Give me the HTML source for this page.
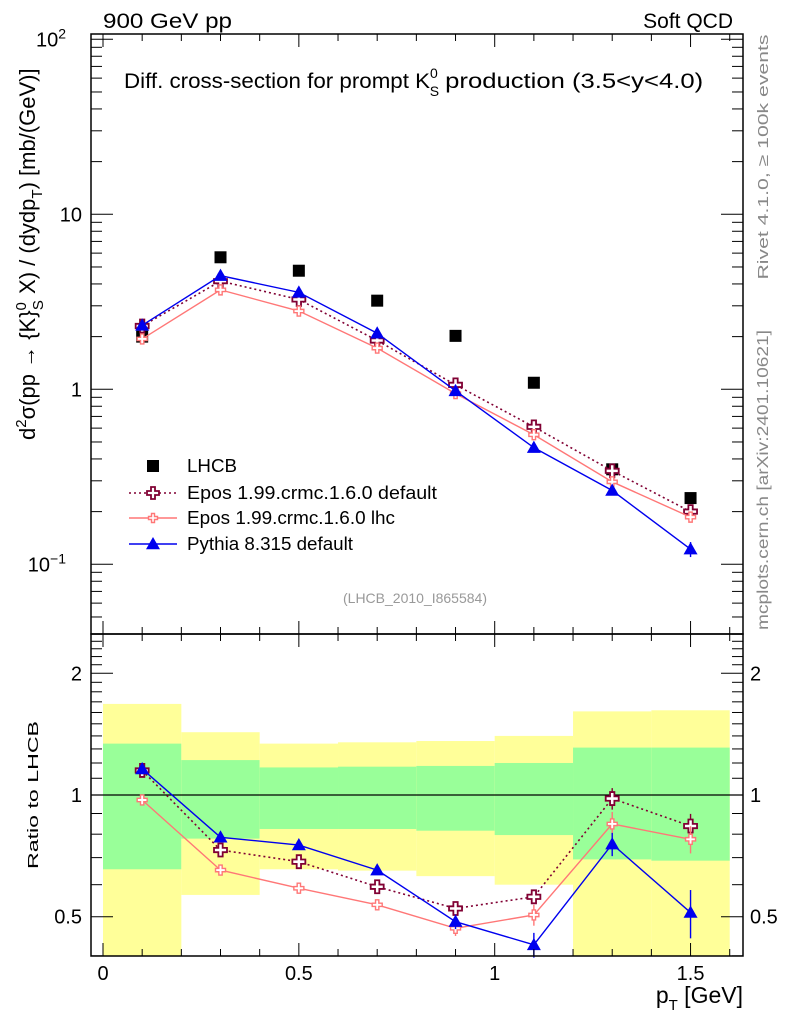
<!DOCTYPE html>
<html><head><meta charset="utf-8"><style>
html,body{margin:0;padding:0;background:#fff;}
svg{display:block;font-family:"Liberation Sans",sans-serif;}
</style></head><body>
<svg id="chart" width="786" height="1024" viewBox="0 0 786 1024" xmlns="http://www.w3.org/2000/svg">
<g id="bands"></g>
<g id="marks"></g>
<g id="axes"></g>
<text x="103" y="28" font-size="21" textLength="129" lengthAdjust="spacingAndGlyphs">900 GeV pp</text>
<text x="733" y="28" font-size="21" text-anchor="end">Soft QCD</text>
<text x="124" y="88" font-size="21"><tspan textLength="306" lengthAdjust="spacingAndGlyphs">Diff. cross-section for prompt K</tspan><tspan font-size="14" dy="-10">0</tspan><tspan font-size="14" dx="-8" dy="18">S</tspan><tspan dy="-8" dx="6" textLength="258" lengthAdjust="spacingAndGlyphs">production (3.5&lt;y&lt;4.0)</tspan></text>
<text x="415" y="603" font-size="14" fill="#999" text-anchor="middle">(LHCB_2010_I865584)</text>
<text transform="translate(768,157) rotate(-90)" font-size="15" fill="#888" text-anchor="middle" textLength="245" lengthAdjust="spacingAndGlyphs">Rivet 4.1.0, ≥ 100k events</text>
<text transform="translate(768,480) rotate(-90)" font-size="15.5" fill="#888" text-anchor="middle" textLength="300" lengthAdjust="spacingAndGlyphs">mcplots.cern.ch [arXiv:2401.10621]</text>
<text transform="translate(35,440) rotate(-90)" font-size="22">d<tspan font-size="15" dy="-9">2</tspan><tspan dy="9">σ(pp → {K}</tspan><tspan font-size="15" dy="-9">0</tspan><tspan font-size="15" dx="-8" dy="17">S</tspan><tspan dy="-8"> X) / (dydp</tspan><tspan font-size="15" dy="7">T</tspan><tspan dy="-7">) [mb/(GeV)]</tspan></text>
<text transform="translate(38,795) rotate(-90)" font-size="15" text-anchor="middle" textLength="148" lengthAdjust="spacingAndGlyphs">Ratio to LHCB</text>
<text x="743" y="1003" font-size="23" text-anchor="end">p<tspan font-size="15" dy="7">T</tspan><tspan dy="-7"> [GeV]</tspan></text>
<g id="legend"></g>
</svg>
<script>
const pt = [0.1,0.3,0.5,0.7,0.9,1.1,1.3,1.5];
const lhcb = [2.0,5.68,4.76,3.21,2.02,1.09,0.349,0.239];
const eposDef = [2.3,4.15,3.26,1.9,1.06,0.61,0.342,0.2];
const eposLhc = [1.94,3.7,2.8,1.72,0.945,0.55,0.296,0.186];
const pythia = [2.32,4.46,3.58,2.09,0.98,0.464,0.264,0.122];
const pythiaErr = [0.05,0.06,0.05,0.04,0.02,0.015,0.012,0.012];
const ratioDef = [1.15,0.731,0.684,0.593,0.524,0.56,0.98,0.838];
const ratioLhc = [0.972,0.652,0.588,0.535,0.468,0.505,0.848,0.777];
const ratioPy = [1.16,0.786,0.752,0.652,0.486,0.426,0.756,0.512];
const ratioPyErr = [0.02,0.01,0.01,0.015,0.02,0.03,0.05,0.07];
const ratioDefErr = [0.01,0.01,0.01,0.01,0.015,0.02,0.06,0.06];
const ratioLhcErr = [0.01,0.01,0.01,0.01,0.02,0.03,0.06,0.06];
const binEdges = [0,0.2,0.4,0.6,0.8,1.0,1.2,1.4,1.6];
const yellowHi = [1.68,1.43,1.34,1.35,1.36,1.40,1.61,1.62];
const greenHi = [1.34,1.22,1.17,1.175,1.18,1.20,1.31,1.31];
const greenLo = [0.655,0.78,0.824,0.824,0.816,0.796,0.693,0.688];
const yellowLo = [0.3,0.566,0.655,0.65,0.63,0.6,0.3,0.3];
const xTicks = [0,0.5,1,1.5];
const xTickLabels = ["0","0.5","1","1.5"];
const ratioTicks = [0.5,1,2];
const ratioTickLabels = ["0.5","1","2"];

const NS="http://www.w3.org/2000/svg";
const L=91,R=743,T=34,M=634,B=956;
const X=v=>103+v*391.7;
const Y=v=>389.3-Math.log10(v)*175;
const RY=v=>795-Math.log2(v)*121.7;
function mk(tag,attrs,parent){const e=document.createElementNS(NS,tag);for(const k in attrs)e.setAttribute(k,attrs[k]);parent.appendChild(e);return e;}
const bands=document.getElementById('bands'),marks=document.getElementById('marks'),axes=document.getElementById('axes'),legend=document.getElementById('legend');
const clipB=v=>Math.min(B,Math.max(M,v));
for(let i=0;i<yellowHi.length;i++){
  const x0=X(binEdges[i]),x1=X(binEdges[i+1]);
  let r=mk('rect',{x:x0,y:clipB(RY(yellowHi[i])),width:x1-x0,height:clipB(RY(yellowLo[i]))-clipB(RY(yellowHi[i])),fill:'#ffff99'},bands);
  
  
  let g=mk('rect',{x:x0,y:RY(greenHi[i]),width:x1-x0,height:RY(greenLo[i])-RY(greenHi[i]),fill:'#99ff99'},bands);
  
  
}
let one=mk('line',{x1:L,x2:R,y1:RY(1),y2:RY(1),stroke:'#000','stroke-width':1.2},bands);



function cross(cx,cy,s,col,parent,w){
  const a=s/3;
  const d=`M${cx-a},${cy-s}h${2*a}v${s-a}h${s-a}v${2*a}h${-(s-a)}v${s-a}h${-2*a}v${-(s-a)}h${-(s-a)}v${-2*a}h${s-a}z`;
  return mk('path',{d:d,fill:'#fff',stroke:col,'stroke-width':w},parent);
}
function tri(cx,cy,s,col,parent){return mk('path',{d:`M${cx},${cy-s}L${cx+s},${cy+s*0.75}L${cx-s},${cy+s*0.75}Z`,fill:col},parent);}
function series(vals,yf,col,dash,marker,name,errs,sz){
  const pts=pt.map((p,i)=>X(p)+','+yf(vals[i])).join(' ');
  const pl=mk('polyline',{points:pts,fill:'none',stroke:col,'stroke-width':dash?1.6:1.4},marks);
  if(dash)pl.setAttribute('stroke-dasharray','2,3');
  
  
  pt.forEach((p,i)=>{
    if(errs){const e=mk('line',{x1:X(p),x2:X(p),y1:yf(vals[i]+errs[i]),y2:yf(vals[i]-errs[i]),stroke:col,'stroke-width':1.4},marks);
      
      }
    let m=marker==='tri'?tri(X(p),yf(vals[i]),7,col,marks):cross(X(p),yf(vals[i]),sz,col,marks,sz>5?1.8:1.4);
    
    
  });
}
pt.forEach((p,i)=>{
  const s=mk('rect',{x:X(p)-6,y:Y(lhcb[i])-6,width:12,height:12,fill:'#000'},marks);
  
  
});
series(eposDef,Y,'#800033',true,'cross','epos-default',null,6.5);
series(eposLhc,Y,'#ff7777',false,'cross','epos-lhc',null,5);
series(pythia,Y,'#0000ee',false,'tri','pythia',pythiaErr);
series(ratioDef,RY,'#800033',true,'cross','ratio-epos-default',ratioDefErr,6.5);
series(ratioLhc,RY,'#ff7777',false,'cross','ratio-epos-lhc',ratioLhcErr,5);
series(ratioPy,RY,'#0000ee',false,'tri','ratio-pythia',ratioPyErr);

[[T,M],[M,B]].forEach(([t,b],k)=>{const f=mk('rect',{x:L,y:t,width:R-L,height:b-t,fill:'none',stroke:'#000','stroke-width':1.5},axes);
  
  });
for(let k=0;k<=16;k++){const v=k/10,x=X(v),len=(k%5===0)?13:7;
  [[T,1],[M,-1],[M,1],[B,-1]].forEach(([y,d])=>mk('line',{x1:x,x2:x,y1:y,y2:y+d*len,stroke:'#000','stroke-width':1},axes));}
xTicks.forEach((v,i)=>{const t=mk('text',{x:X(v),y:980,'font-size':20,'text-anchor':'middle'},axes);t.textContent=xTickLabels[i];
  
  });
for(let d=-2;d<=2;d++)for(let m=1;m<=9;m++){const v=m*Math.pow(10,d),y=Y(v);if(y<T||y>M)continue;const len=m===1?22:11;
  mk('line',{x1:L,x2:L+len,y1:y,y2:y,stroke:'#000'},axes);mk('line',{x1:R,x2:R-len,y1:y,y2:y,stroke:'#000'},axes);}
[['10','2',100],['10','',10],['1','',1],['10','−1',0.1]].forEach(([b,e,v])=>{
  const t=mk('text',{x:e?66:82,y:Y(v)+7,'font-size':20,'text-anchor':'end'},axes);t.textContent=b;
  if(e){const s=mk('tspan',{'font-size':14,dy:-8},t);s.textContent=e;}
  
  });
const rt=[];for(let k=4;k<=25;k++)rt.push(k/10);
rt.forEach(v=>{const y=RY(v);if(y<M||y>B)return;const len=(v===0.5||v===1||v===2)?22:11;
  mk('line',{x1:L,x2:L+len,y1:y,y2:y,stroke:'#000'},axes);mk('line',{x1:R,x2:R-len,y1:y,y2:y,stroke:'#000'},axes);});
ratioTicks.forEach((v,i)=>{[[82,'end'],[750,'start']].forEach(([x,a])=>{const t=mk('text',{x:x,y:RY(v)+7,'font-size':20,'text-anchor':a},axes);t.textContent=ratioTickLabels[i];
  
  });});
const legY=[466,493,518,544];
const legLabels=['LHCB','Epos 1.99.crmc.1.6.0 default','Epos 1.99.crmc.1.6.0 lhc','Pythia 8.315 default'];
const legLen=[50,250,208,166];
legLabels.forEach((lab,i)=>{const y=legY[i];
  if(i===0){mk('rect',{x:147,y:y-6,width:12,height:12,fill:'#000'},legend);}
  else{const col=['','#800033','#ff7777','#0000ee'][i];
    const l=mk('line',{x1:129,x2:177,y1:y,y2:y,stroke:col,'stroke-width':1.5},legend);if(i===1)l.setAttribute('stroke-dasharray','2,3');
    if(i===3)tri(153,y,7,col,legend);else cross(153,y,i===1?6:4.5,col,legend,i===1?1.8:1.4);}
  const t=mk('text',{x:187,y:y+6,'font-size':18,textLength:legLen[i],lengthAdjust:'spacingAndGlyphs'},legend);t.textContent=lab;
  
  });
</script>
</body></html>
